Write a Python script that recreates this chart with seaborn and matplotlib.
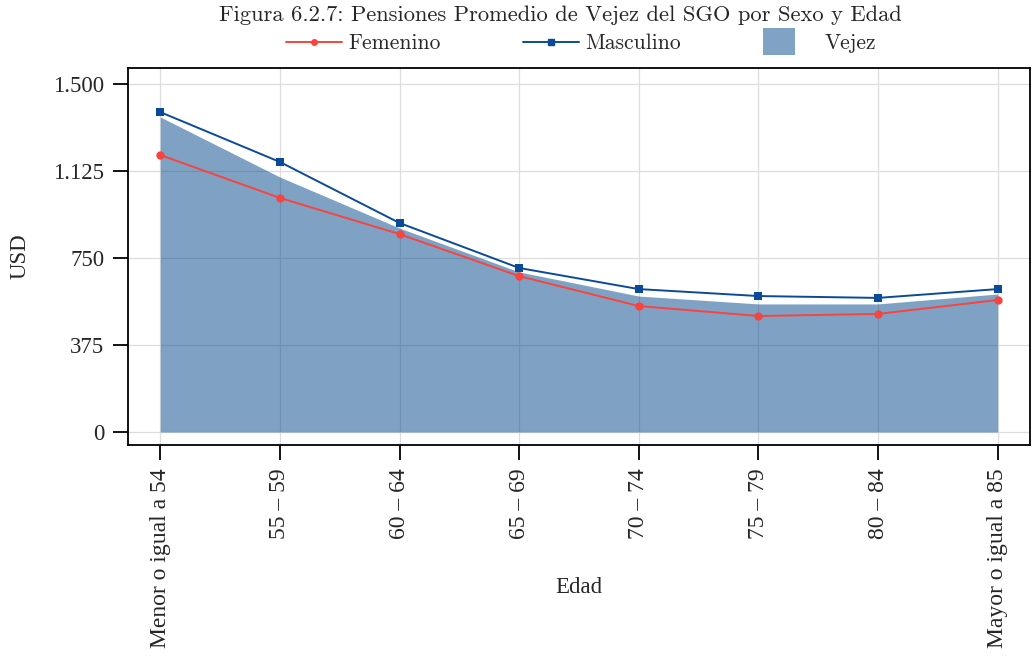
import numpy as np
import pandas as pd
import matplotlib
matplotlib.use("Agg")
import matplotlib.pyplot as plt
import seaborn as sns
from matplotlib.patches import Patch, Rectangle
from matplotlib.lines import Line2D
from matplotlib.legend_handler import HandlerPatch

categorias = ["Menor o igual a 54", "55 – 59", "60 – 64", "65 – 69",
              "70 – 74", "75 – 79", "80 – 84", "Mayor o igual a 85"]
femenino = [1194, 1009, 853, 672, 543, 500, 509, 569]
masculino = [1379, 1164, 901, 707, 616, 586, 578, 616]
vejez = [1358, 1099, 879, 690, 586, 552, 552, 595]
yticks = [0, 375, 750, 1125, 1500]
ytick_labels = ["0", "375", "750", "1.125", "1.500"]

sns.set_theme(style="whitegrid")
plt.rcParams["font.family"] = ["Liberation Serif", "DejaVu Serif"]

df = pd.DataFrame({
    "pos": list(range(len(categorias))) * 2,
    "valor": femenino + masculino,
    "Sexo": ["Femenino"] * len(categorias) + ["Masculino"] * len(categorias),
})

fig = plt.figure(figsize=(10.32, 6.57), dpi=100)
ax = fig.add_axes([0.124, 0.3227, 0.874, 0.5738])

pos = np.arange(len(categorias))
ax.fill_between(pos, 0, vejez, color="#00468B", alpha=0.5, linewidth=0, zorder=1)

sns.lineplot(data=df, x="pos", y="valor", hue="Sexo", style="Sexo",
             palette={"Femenino": "#F8433F", "Masculino": "#0B4A99"},
             markers={"Femenino": "o", "Masculino": "s"}, dashes=False,
             markersize=6, markeredgewidth=0, linewidth=1.4, ax=ax,
             legend=False, zorder=3)

ax.set_xlim(-0.27, 7.27)
ax.set_ylim(-56, 1569)
ax.set_xticks(pos)
ax.set_xticklabels(categorias, rotation=90, fontsize=17)
ax.set_yticks(yticks)
ax.set_yticklabels(ytick_labels, fontsize=16.5)
ax.set_xlabel("Edad", fontsize=16.5)
ax.set_ylabel("USD", fontsize=16.5)
ax.xaxis.set_label_coords(0.5, -0.35)
ax.yaxis.set_label_coords(-0.108, 0.5)

ax.grid(True, color="#DDDDDD", linewidth=0.9)
ax.set_axisbelow(True)
for s in ax.spines.values():
    s.set_color("black")
    s.set_linewidth(1.3)
ax.tick_params(axis="both", which="major", direction="out", length=11,
               width=1.3, color="black", left=True, bottom=True, pad=6)


def caja(legend, orig_handle, xdescent, ydescent, width, height, fontsize):
    h = 19
    return Rectangle((-xdescent, -ydescent + height / 2 - h / 2), width * 0.57, h)


handles = [
    Line2D([], [], color="#F8433F", marker="o", markersize=4, linewidth=1.4),
    Line2D([], [], color="#0B4A99", marker="s", markersize=4.5, linewidth=1.4),
    Patch(facecolor="#7FA2C5", edgecolor="none"),
]
fig.legend(handles, ["Femenino", "Masculino", "Vejez"], loc="center",
           bbox_to_anchor=(0.5633, 0.934), ncol=3, frameon=False,
           prop={"family": "cmr10", "size": 15.5}, handlelength=2.6,
           columnspacing=3.8, handletextpad=0.3,
           handler_map={Patch: HandlerPatch(patch_func=caja)})
fig.text(0.543, 0.977, "Figura 6.2.7: Pensiones Promedio de Vejez del SGO por Sexo y Edad",
         ha="center", va="center", family="cmr10", fontsize=16.2)

fig.savefig("out.png", dpi=100)
